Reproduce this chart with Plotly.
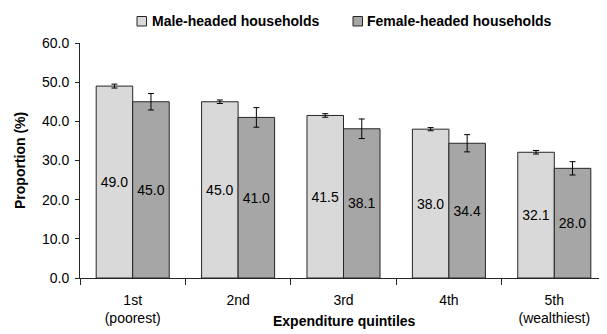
import plotly.graph_objects as go

categories = ["1st<br>(poorest)", "2nd", "3rd", "4th", "5th<br>(wealthiest)"]
male_values = [49.0, 45.0, 41.5, 38.0, 32.1]
female_values = [45.0, 41.0, 38.1, 34.4, 28.0]
male_err = [0.5, 0.45, 0.45, 0.4, 0.45]
female_err = [2.1, 2.5, 2.5, 2.2, 1.7]
y_ticks = [0, 10, 20, 30, 40, 50, 60]

MALE_COLOR = "#D9D9D9"
FEMALE_COLOR = "#A6A6A6"
EDGE = "#262626"
FONT = "Liberation Sans, Arial, sans-serif"

fig = go.Figure()
for name, vals, errs, col in [
    ("Male-headed households", male_values, male_err, MALE_COLOR),
    ("Female-headed households", female_values, female_err, FEMALE_COLOR),
]:
    fig.add_trace(go.Bar(
        name=name, x=categories, y=vals,
        marker=dict(color=col, line=dict(color=EDGE, width=1)),
        error_y=dict(type="data", array=errs, visible=True, color="black", thickness=1, width=3),
        text=[f"{v:.1f}" for v in vals], textposition="inside", insidetextanchor="middle",
        textangle=0, textfont=dict(family=FONT, size=14, color="black"),
        cliponaxis=False,
    ))

# page body has an 8px default margin; compensate so the plot sits where the reference has it
OFF = 8
W, H = 607 - OFF, 334 - OFF
PL, PR, PT, PB = 80, 607, 43, 278          # plot area in window pixels
ML, MR, MT, MB = PL - OFF, 0, PT - OFF, H - (PB - OFF)
pw, ph = PR - PL, PB - PT

def px(xp):
    return (xp - PL) / pw

def py(yp):
    return (PB - yp) / ph

fig.update_layout(
    width=W, height=H, margin=dict(l=ML, r=MR, t=MT, b=MB, autoexpand=False),
    paper_bgcolor="white", plot_bgcolor="white",
    barmode="group", bargap=0.307, bargroupgap=0,
    showlegend=False,
    font=dict(family=FONT, size=14, color="black"),
    xaxis=dict(
        range=[-0.5, 4.5], tickson="boundaries", ticks="outside", ticklen=6,
        tickcolor=EDGE, showline=True, linecolor=EDGE, linewidth=1,
        showgrid=False, ticklabelstandoff=9, automargin=False,
        tickfont=dict(family=FONT, size=14, color="black"),
    ),
    yaxis=dict(
        range=[0, 60], tickvals=y_ticks, tickformat=".1f", ticks="outside", ticklen=4,
        tickcolor=EDGE, showline=True, linecolor=EDGE, linewidth=1,
        showgrid=False, zeroline=False, automargin=False, ticklabelstandoff=3,
        tickfont=dict(family=FONT, size=14, color="black"),
    ),
)

annotations = [
    dict(text="<b>Expenditure quintiles</b>", xref="paper", yref="paper",
         x=px(344), y=py(320.7), xanchor="center", yanchor="middle", showarrow=False,
         font=dict(family=FONT, size=14, color="black")),
    dict(text="<b>Proportion (%)</b>", xref="paper", yref="paper",
         x=px(20), y=py(161), xanchor="center", yanchor="middle", showarrow=False,
         textangle=-90, font=dict(family=FONT, size=14, color="black")),
    dict(text="<b>Male-headed households</b>", xref="paper", yref="paper",
         x=px(150), y=py(21.5), xanchor="left", yanchor="middle", showarrow=False,
         font=dict(family=FONT, size=14, color="black")),
    dict(text="<b>Female-headed households</b>", xref="paper", yref="paper",
         x=px(365), y=py(21.5), xanchor="left", yanchor="middle", showarrow=False,
         font=dict(family=FONT, size=14, color="black")),
]
shapes = [
    dict(type="rect", xref="paper", yref="paper", x0=px(137), x1=px(146.5), y0=py(26), y1=py(16.5),
         fillcolor=MALE_COLOR, line=dict(color=EDGE, width=1)),
    dict(type="rect", xref="paper", yref="paper", x0=px(353), x1=px(362.5), y0=py(26), y1=py(16.5),
         fillcolor=FEMALE_COLOR, line=dict(color=EDGE, width=1)),
]
fig.update_layout(annotations=annotations, shapes=shapes)

fig.write_html("out.html")
